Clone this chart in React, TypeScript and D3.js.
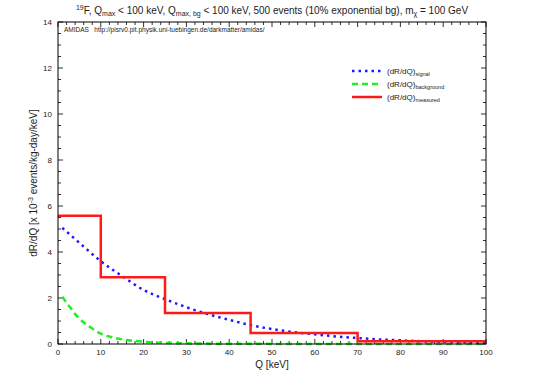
import React from 'react';
import * as d3 from 'd3';

const qSignal = [1, 5, 10, 15, 20, 25, 30, 35, 40, 45, 50, 55, 60, 65, 70, 75, 80, 85, 90, 95, 100];
const signal = [5.05, 4.4, 3.6, 2.95, 2.35, 1.95, 1.6, 1.3, 1.05, 0.82, 0.65, 0.52, 0.42, 0.33, 0.26, 0.2, 0.16, 0.12, 0.09, 0.07, 0.05];

const qBackground = [1, 2, 3, 4, 5, 7, 10, 12.5, 15, 20, 25, 30, 40, 50, 70, 100];
const background = [2.05, 1.8, 1.55, 1.3, 1.1, 0.8, 0.45, 0.3, 0.2, 0.1, 0.05, 0.03, 0.01, 0.005, 0.001, 0];

const binEdges = [0, 10, 25, 45, 70, 100];
const measured = [5.58, 2.9, 1.35, 0.48, 0.12];

const xTicks = [0, 10, 20, 30, 40, 50, 60, 70, 80, 90, 100];
const yTicks = [0, 2, 4, 6, 8, 10, 12, 14];

const W = 534;
const H = 374;
const m = { left: 58, right: 48, top: 22, bottom: 30 };

const App = () => {
  const x = d3.scaleLinear().domain([0, 100]).range([m.left, W - m.right]);
  const y = d3.scaleLinear().domain([0, 14]).range([H - m.bottom, m.top]);
  const font = 'Liberation Sans, Arial, sans-serif';

  const line = d3
    .line<[number, number]>()
    .x((d) => x(d[0]))
    .y((d) => y(d[1]))
    .curve(d3.curveMonotoneX);

  const sigPath = line(qSignal.map((q, i) => [q, signal[i]]));
  const bgPath = line(qBackground.map((q, i) => [q, background[i]]));

  // step line for the measured spectrum
  const steps: [number, number][] = [];
  measured.forEach((v, i) => {
    steps.push([binEdges[i], v]);
    steps.push([binEdges[i + 1], v]);
  });
  const stepPath = d3
    .line<[number, number]>()
    .x((d) => x(d[0]))
    .y((d) => y(d[1]))(steps);

  const xMinor = d3.range(0, 101, 2);
  const yMinor = d3.range(0, 14.01, 0.5);
  const x0 = x(0), x1 = x(100), y0 = y(0), y1 = y(14);

  return (
    <svg width={W} height={H} style={{ position: 'absolute', left: 0, top: 0 }} fontFamily={font}>
      <rect width={W} height={H} fill="white" />
      <g stroke="black" strokeWidth={0.8}>
        {xMinor.map((t) => {
          const len = t % 10 === 0 ? 5 : 3;
          return (
            <g key={'x' + t}>
              <line x1={x(t)} x2={x(t)} y1={y0} y2={y0 - len} />
              <line x1={x(t)} x2={x(t)} y1={y1} y2={y1 + len} />
            </g>
          );
        })}
        {yMinor.map((t) => {
          const len = t % 2 === 0 ? 5 : 3;
          return (
            <g key={'y' + t}>
              <line x1={x0} x2={x0 + len} y1={y(t)} y2={y(t)} />
              <line x1={x1} x2={x1 - len} y1={y(t)} y2={y(t)} />
            </g>
          );
        })}
      </g>
      {xTicks.map((t) => (
        <text key={'xl' + t} x={x(t)} y={y0 + 11} fontSize={8} textAnchor="middle" fill="#222">
          {t}
        </text>
      ))}
      {yTicks.map((t) => (
        <text key={'yl' + t} x={x0 - 6} y={y(t) + 3} fontSize={8} textAnchor="end" fill="#222">
          {t}
        </text>
      ))}
      <text x={(x0 + x1) / 2} y={H - 6} fontSize={10} textAnchor="middle" fill="#222">
        Q [keV]
      </text>
      <text transform={`translate(37,${(y0 + y1) / 2}) rotate(-90)`} fontSize={10} textAnchor="middle" fill="#222">
        dR/dQ [x 10<tspan dy={-4} fontSize={7}>-3</tspan>
        <tspan dy={4}> events/kg-day/keV]</tspan>
      </text>
      <text x={272} y={14} fontSize={10} textAnchor="middle" fill="#222">
        <tspan dy={-4} fontSize={7}>19</tspan>
        <tspan dy={4}>F, Q</tspan>
        <tspan dy={2} fontSize={7}>max</tspan>
        <tspan dy={-2}> &lt; 100 keV, Q</tspan>
        <tspan dy={2} fontSize={7}>max, bg</tspan>
        <tspan dy={-2}> &lt; 100 keV, 500 events (10% exponential bg), m</tspan>
        <tspan dy={2} fontSize={7}>χ</tspan>
        <tspan dy={-2}> = 100 GeV</tspan>
      </text>
      <text x={64} y={32} fontSize={6.5} fill="#222">
        AMIDAS{'\u00a0\u00a0\u00a0'}http://pisrv0.pit.physik.uni-tuebingen.de/darkmatter/amidas/
      </text>
      <path d={bgPath ?? ''} fill="none" stroke="#22ee22" strokeWidth={2.5} strokeDasharray="6,4" />
      <path d={sigPath ?? ''} fill="none" stroke="#1a1aff" strokeWidth={2.5} strokeDasharray="2.5,4" />
      <path d={stepPath ?? ''} fill="none" stroke="#ff1a1a" strokeWidth={2.5} />
      <rect x={x0} y={y1} width={x1 - x0} height={y0 - y1} fill="none" stroke="black" strokeWidth={1} />
      <g fontSize={8} fill="#222">
        <line x1={352} x2={382} y1={71} y2={71} stroke="#1a1aff" strokeWidth={2.5} strokeDasharray="2.5,4" />
        <text x={387} y={74}>
          (dR/dQ)<tspan dy={2} fontSize={5.5}>signal</tspan>
        </text>
        <line x1={352} x2={382} y1={84} y2={84} stroke="#22ee22" strokeWidth={2.5} strokeDasharray="6,4" />
        <text x={387} y={87}>
          (dR/dQ)<tspan dy={2} fontSize={5.5}>background</tspan>
        </text>
        <line x1={352} x2={382} y1={97} y2={97} stroke="#ff1a1a" strokeWidth={2.5} />
        <text x={387} y={100}>
          (dR/dQ)<tspan dy={2} fontSize={5.5}>measured</tspan>
        </text>
      </g>
    </svg>
  );
};

export default App;
